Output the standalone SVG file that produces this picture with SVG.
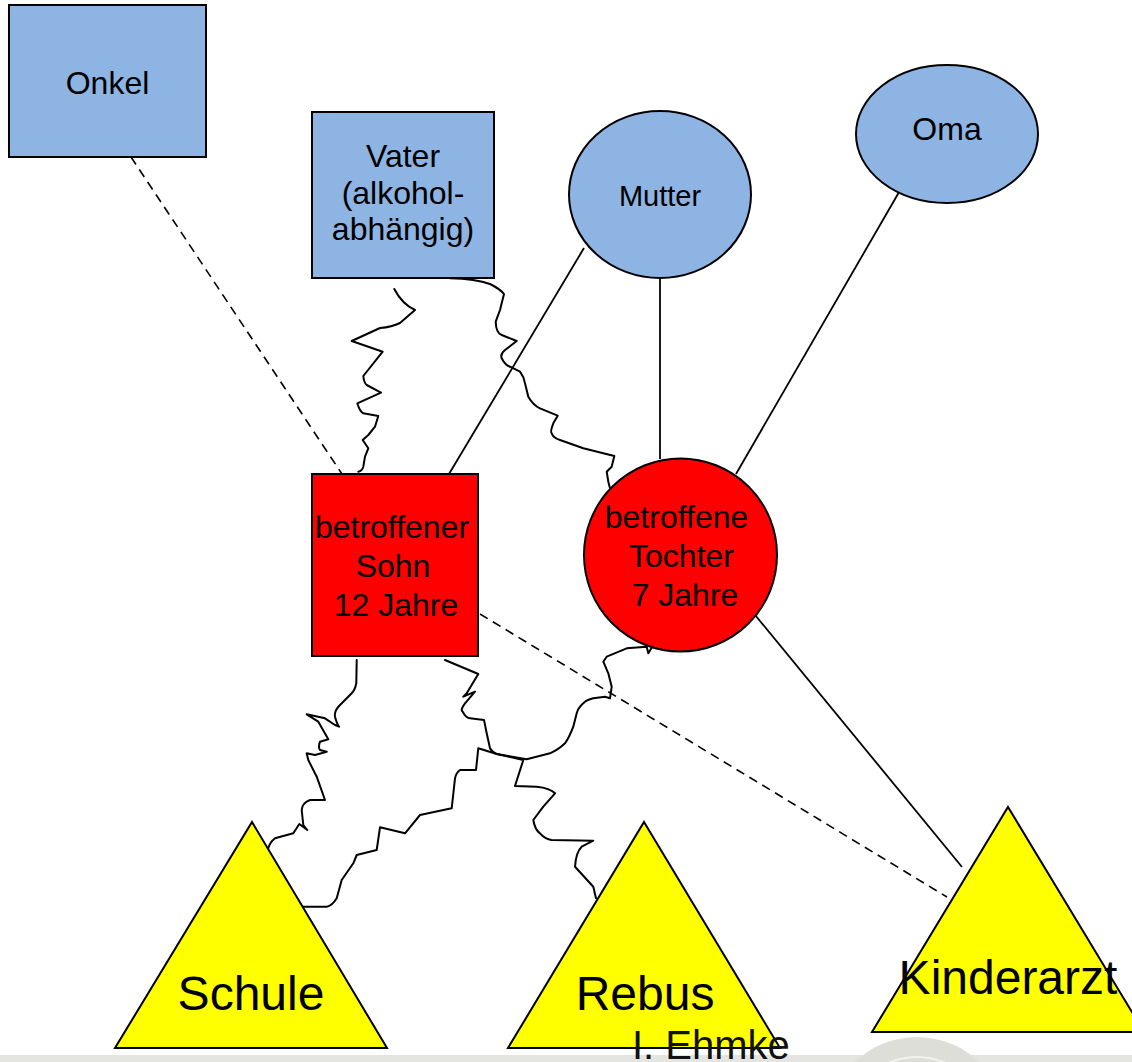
<svg xmlns="http://www.w3.org/2000/svg" width="1132" height="1062" viewBox="0 0 1132 1062">
<style>
.blue{fill:#8eb4e3;stroke:#000;stroke-width:2}
.red{fill:#ff0000;stroke:#000;stroke-width:2}
.yel{fill:#ffff00;stroke:#000;stroke-width:2}
.t{font-family:"Liberation Sans",Arial,sans-serif;fill:#000;text-anchor:middle}
.s32{font-size:32px}
.s29{font-size:29px}
.s48{font-size:48px}
.ln{fill:none;stroke:#000;stroke-width:1.8}
.dash{fill:none;stroke:#000;stroke-width:1.6;stroke-dasharray:9 6}
.wavy{fill:none;stroke:#000;stroke-width:2;stroke-linejoin:round;stroke-linecap:round}
</style>
<rect width="1132" height="1062" fill="#fff"/>
<g id="footer">
<rect x="0" y="1055" width="1132" height="7" fill="#e4e4e0"/>
<circle cx="917" cy="1127" r="90" fill="#deded9"/>
<circle cx="917" cy="1127" r="70" fill="none" stroke="#f2f2ee" stroke-width="2"/>
<circle cx="917" cy="1127" r="45" fill="none" stroke="#f2f2ee" stroke-width="2"/>
</g>
<g id="connectors">
<line class="dash" x1="131" y1="157" x2="342" y2="474"/>
<line class="dash" x1="480" y1="614" x2="947" y2="897"/>
<line class="ln" x1="584" y1="248" x2="449" y2="474"/>
<line class="ln" x1="660" y1="278" x2="660" y2="459"/>
<line class="ln" x1="902" y1="187" x2="736" y2="474"/>
<line class="ln" x1="751" y1="610" x2="962" y2="867"/>
<path class="wavy" d="M394.3,289 Q402,304 415,310 L400,323 Q392,327 380,328 L351.7,341 L382.7,351.7 L363.3,376 Q364,383 366.7,385 L381,392.7 L357.3,403.3 Q360,412 363.3,413.3 L378.3,416 L375,426.7 L368.3,435 L362.7,440 L368.3,448.3 L365,456.7 L363.3,466.7 Q362,471 358.3,471.7"/>
<path class="wavy" d="M450,278.3 Q476,279 490,284 Q500,289 504,294 L500,310 L495.7,321.7 Q496,333 501.7,335 L516.7,341 L505,350 Q500,354 501.7,358.3 Q505,365 510,366.7 L520,371.7 Q524,377 525,383.3 L528.3,396.7 Q533,405 540,408.3 L557.7,415.7 L553.3,423.3 Q550,432 551.7,433.3 Q553,438 560,440 L583.3,448.3 L614.3,456 L611.7,466.7 L606.7,471.7 L608.3,481.7 L610,488.3"/>
<path class="wavy" d="M356.7,660 L356.3,683.3 Q355,690 351.7,693.3 L340,705 Q334,711 335,716.7 Q337,724 339,726.7 L335,725 L325,718.3 L306.7,714.3 L318.3,721.7 L328.3,739.3 L320,741.7 Q318,747 320,750 L326.7,751.7 L315,755 L306.7,753.3 L308.3,760 L316.7,776.7 L325,800 L310,800 Q302,803 301.7,810 L303.3,825 L307.3,830 L299.3,824 L293.3,833.3 L275,838.3 Q270,842 268.3,848.3"/>
<path class="wavy" d="M445,660 L478.3,674 L466.7,693.3 L463.3,696.7 L475,691.7 L465,703.3 Q460,710 462.7,711.7 Q466,718 470,718.3 L484,720 L486.7,733.3 L490,748.3 Q492,752 496.7,754 L523.3,760 L515,786 L536.7,786.7 Q550,788 555,793.3 L543.3,806.7 L533.3,820 Q535,830 540,833.3 Q545,839 551.7,840 L593.3,840.7 L581.7,846.7 Q576,852 575,866.7 L593.3,886.7 L596,898.3"/>
<path class="wavy" d="M653.3,645 L648.3,653.3 L646.7,646.7 L626.7,648.3 L606.7,656.7 L603.3,661.7 L608.3,673.3 L611.7,686.7 L610,698.3 L605,696.7 L593.3,698.3 Q586,700 583.3,703.3 Q578,708 576.7,713.3 L573.3,726.7 Q569,738 565,743.3 Q558,750 550,753.3 L526.7,759.3 L496.7,754 L478.3,748.3 L476,770 L460,770 Q456,773 455,778.3 L451.7,808.3 L420,815 L405,833.3 L380,827.3 L376.7,850 L356.7,855 L353.3,863.3 L341.7,880 L336.7,898.3 Q332,906 326.7,906.7 L300,906.7"/>
</g>
<g id="onkel">
<rect class="blue" x="9" y="5" width="197" height="152"/>
<text class="t s32" x="107.5" y="94">Onkel</text>
</g>
<g id="vater">
<rect class="blue" x="312" y="112" width="182" height="166"/>
<text class="t s32" x="403" y="167">Vater</text>
<text class="t s32" x="403" y="204">(alkohol-</text>
<text class="t s32" x="403" y="240">abhängig)</text>
</g>
<g id="mutter">
<ellipse class="blue" cx="660" cy="194.5" rx="91" ry="83.5"/>
<text class="t s29" x="660" y="206">Mutter</text>
</g>
<g id="oma">
<ellipse class="blue" cx="947" cy="134" rx="91" ry="69"/>
<text class="t s32" x="947" y="140">Oma</text>
</g>
<g id="sohn">
<rect class="red" x="312" y="474" width="166" height="182"/>
<text class="t s32" x="392" y="538">betroffener</text>
<text class="t s32" x="393" y="577">Sohn</text>
<text class="t s32" x="396" y="616">12 Jahre</text>
</g>
<g id="tochter">
<circle class="red" cx="680.5" cy="555" r="96.5"/>
<text class="t s32" x="676.5" y="528">betroffene</text>
<text class="t s32" x="681.5" y="567">Tochter</text>
<text class="t s32" x="685" y="606">7 Jahre</text>
</g>
<g id="schule">
<polygon class="yel" points="252,822 387,1048 115,1048"/>
<text class="t s48" x="251" y="1010">Schule</text>
</g>
<g id="rebus">
<polygon class="yel" points="644,822 780,1048 508,1048"/>
<text class="t s48" x="645" y="1010">Rebus</text>
</g>
<g id="kinderarzt">
<polygon class="yel" points="1008,807 1144,1032 872,1032"/>
<text class="t s48" x="1008" y="994">Kinderarzt</text>
</g>
<text x="632" y="1059" font-family="'Liberation Sans',Arial,sans-serif" font-size="40" fill="#111">I. Ehmke</text>
</svg>
